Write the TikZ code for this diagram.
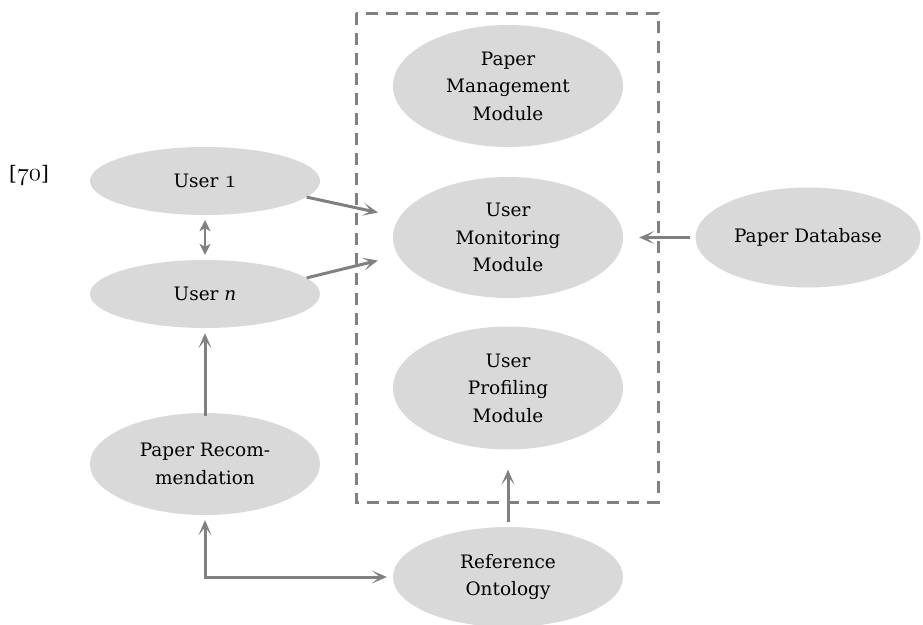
\documentclass[tikz,border=0pt]{standalone}
\usepackage{fontspec}
\setmainfont{DejaVu Serif}
\usetikzlibrary{shapes.geometric,arrows.meta,calc}
\newcommand\osnum[1]{{\fontsize{24.88}{26}\usefont{OML}{cmm}{m}{it}#1}}
\definecolor{ellfill}{HTML}{D9D9D9}
\definecolor{linegray}{HTML}{808080}
\begin{document}
\begin{tikzpicture}[x=1pt,y=-1pt,
  ell/.style={ellipse,fill=ellfill,draw=none,inner sep=0pt,align=center,
    font=\fontsize{18.5}{27.5}\selectfont},
  arr/.style={draw=linegray,line width=3pt,-{Stealth[length=15pt,width=13pt,inset=8pt]}},
  darr/.style={draw=linegray,line width=3pt,{Stealth[length=15pt,width=13pt,inset=8pt]}-{Stealth[length=15pt,width=13pt,inset=8pt]}},
  sarr/.style={draw=linegray,line width=2.5pt,{Stealth[length=11pt,width=11pt,inset=3pt]}-{Stealth[length=11pt,width=11pt,inset=3pt]}},
  boxline/.style={draw=linegray,line width=3pt,dash pattern=on 12pt off 8pt}]
\useasboundingbox (0,0) rectangle (923,624);
\fill[white] (0,0) rectangle (923,624);
% dashed container
\draw[boxline] (356,13) rectangle (658,502);
% nodes
\node[ell,minimum width=230pt,minimum height=122pt] (pmm) at (508,86) {Paper\\Management\\Module};
\node[ell,minimum width=230pt,minimum height=121pt] (umm) at (508,237.5) {User\\Monitoring\\Module};
\node[ell,minimum width=230pt,minimum height=123pt] (upm) at (508,388) {User\\Profiling\\Module};
\node[ell,minimum width=225pt,minimum height=100pt] (pdb) at (808,237.5) {Paper Database};
\node[ell,minimum width=230pt,minimum height=68pt] (u1) at (205,181) {User \osnum{1}};
\node[ell,minimum width=230pt,minimum height=68pt] (un) at (205,294) {User \textit{n}};
\node[ell,minimum width=230pt,minimum height=102pt] (pr) at (205,464) {Paper Recom-\\mendation};
\node[ell,minimum width=230pt,minimum height=100pt] (ro) at (508,577) {Reference\\Ontology};
\node[font=\fontsize{20}{24}\selectfont,inner sep=0pt] (cite) at (29,175) {[{\fontsize{24.88}{28}\usefont{OML}{cmm}{m}{it}70}]};
% connectors
\draw[arr] (u1.-9) -- ($(umm.west)+(-15,-25)$);
\draw[arr] (un.9) -- ($(umm.west)+(-15,23)$);
\draw[arr] ([xshift=-5pt]pdb.west) -- ([xshift=16pt]umm.east);
\draw[arr] ([yshift=5pt]ro.north) -- ([yshift=-20pt]upm.south);
\draw[arr] ([yshift=-3pt]pr.north) -- ([yshift=-5pt]un.south);
\draw[sarr] ([yshift=-5pt]u1.south) -- ([yshift=5pt]un.north);
\draw[darr] ([yshift=-5pt]pr.south) |- ([xshift=-6pt]ro.west);
\end{tikzpicture}
\end{document}
